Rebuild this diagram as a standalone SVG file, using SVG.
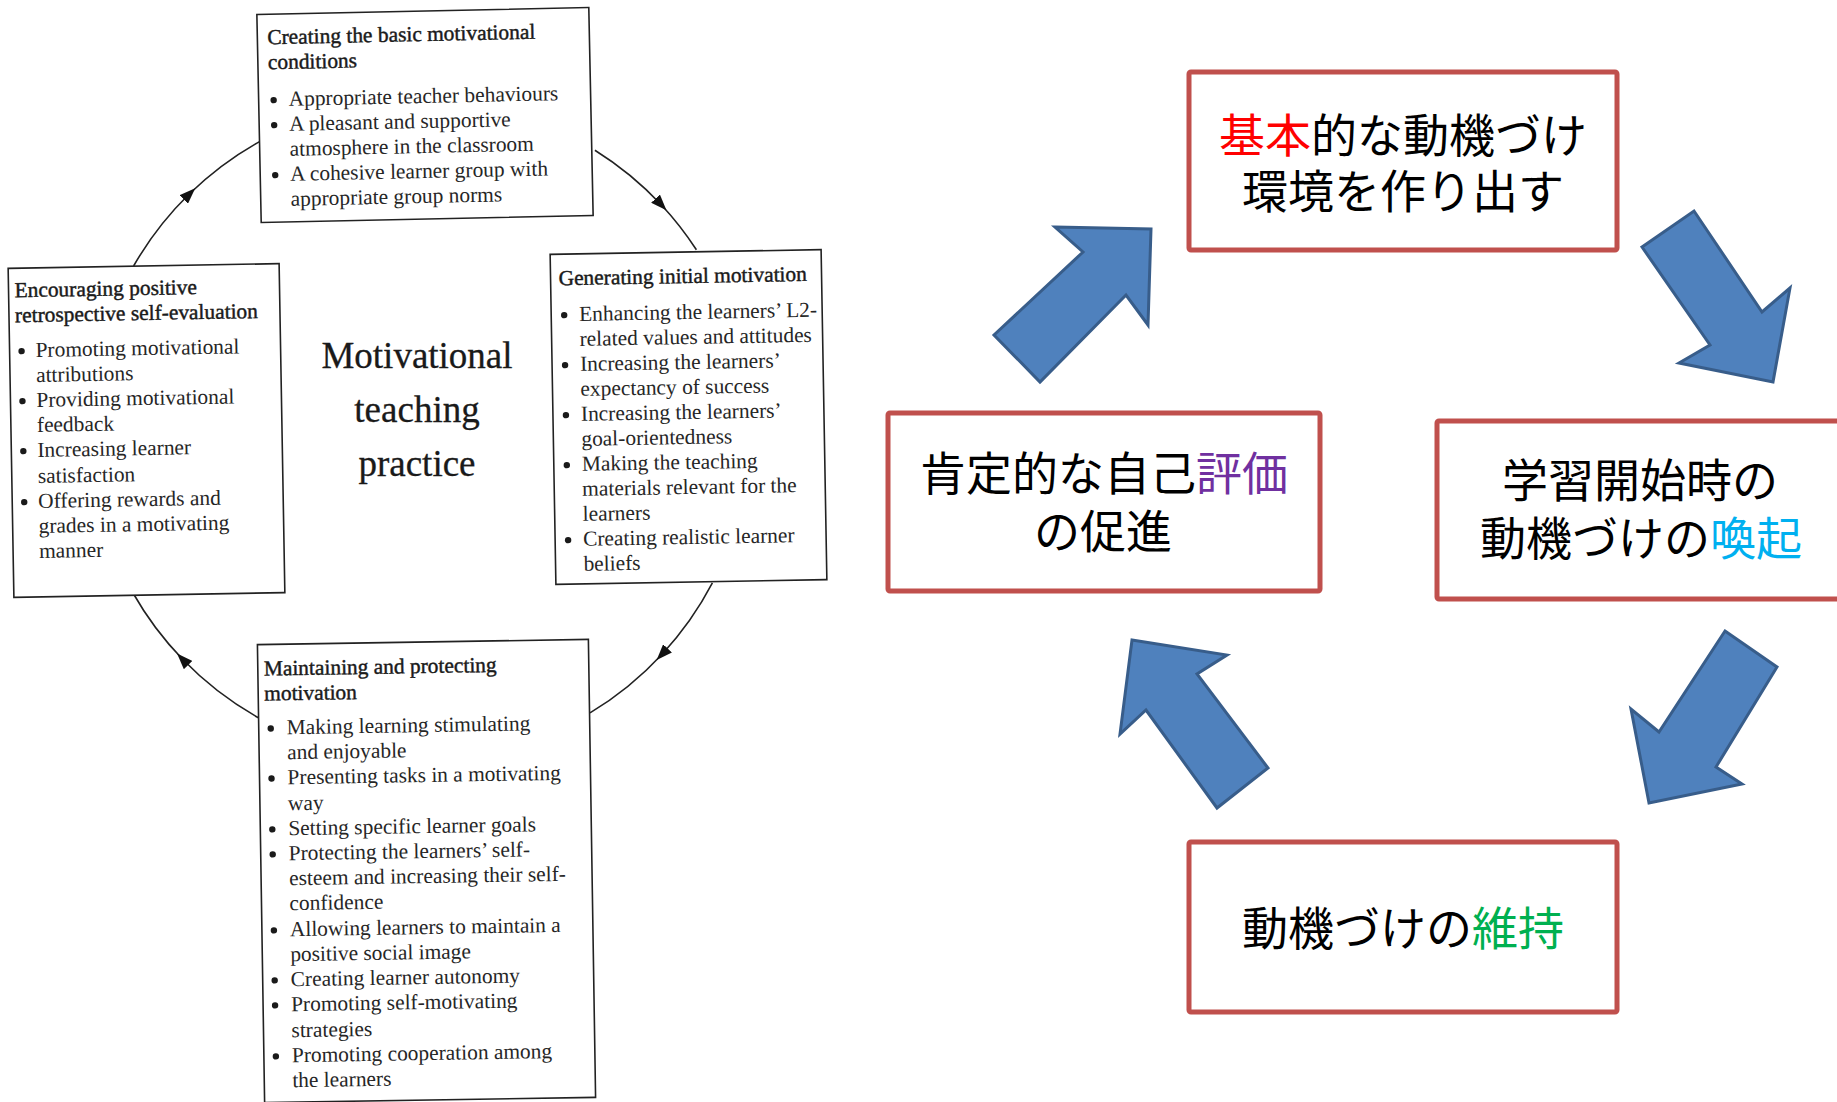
<svg xmlns="http://www.w3.org/2000/svg" width="1837" height="1102" viewBox="0 0 1837 1102">
<defs>
<style>
.sbox{fill:#fff;stroke:#222;stroke-width:1.6}
.t{font-family:"Liberation Serif","Times New Roman",serif;font-size:21.4px;fill:#262626}
.ti{font-family:"Liberation Serif","Times New Roman",serif;font-size:21.4px;fill:#1a1a1a;stroke:#1a1a1a;stroke-width:0.45}
.ct{font-family:"Liberation Serif","Times New Roman",serif;font-size:37px;fill:#1a1a1a;text-anchor:middle;stroke:#1a1a1a;stroke-width:0.3}
.dot{fill:#1a1a1a}
.arc{fill:none;stroke:#222;stroke-width:1.6;marker-mid:url(#ah)}
.jbox{fill:#fff;stroke:#C0504D;stroke-width:5}
.jt{font-family:"Noto Sans CJK JP","Noto Sans CJK SC",sans-serif;font-size:46px;fill:#000}
.red{fill:#FF0000}
.cyan{fill:#00B0F0}
.green{fill:#00B050}
.purple{fill:#7030A0}
.barrow{fill:#4F81BD;stroke:#385D8A;stroke-width:3;stroke-linejoin:miter}
</style>
<marker id="ah" viewBox="0 0 16 12" refX="8" refY="6" markerWidth="16" markerHeight="12" markerUnits="userSpaceOnUse" orient="auto">
<path d="M0,0 L16,6 L0,12 z" fill="#111"/>
</marker>
</defs>
<rect width="1837" height="1102" fill="#fff"/>

<!-- connectors (left cycle) -->
<g id="connectors">
<path class="arc" d="M133.6,266 A330,330 0 0 1 189.5,193.8 A330,330 0 0 1 259.5,141.6"/>
<path class="arc" d="M594.9,150.2 A330,330 0 0 1 661,204.5 A330,330 0 0 1 696.4,249.8"/>
<path class="arc" d="M712.4,582.9 A330,330 0 0 1 662.1,654.2 A330,330 0 0 1 590,712.9"/>
<path class="arc" d="M258.5,717.8 A330,330 0 0 1 182.6,659.3 A330,330 0 0 1 133,593"/>
</g>

<!-- left: top box -->
<g id="node-creating" transform="rotate(-1.2 425 115)">
<rect class="sbox" x="259" y="11" width="332" height="208"/>
<text class="ti" x="269" y="41">Creating the basic motivational</text>
<text class="ti" x="269" y="66">conditions</text>
<circle class="dot" cx="274" cy="97" r="3.2"/>
<text class="t" x="289" y="103">Appropriate teacher behaviours</text>
<circle class="dot" cx="274" cy="122" r="3.2"/>
<text class="t" x="289" y="128">A pleasant and supportive</text>
<text class="t" x="289" y="153">atmosphere in the classroom</text>
<circle class="dot" cx="274" cy="172" r="3.2"/>
<text class="t" x="289" y="178">A cohesive learner group with</text>
<text class="t" x="289" y="203">appropriate group norms</text>
</g>

<!-- left: encouraging box -->
<g id="node-encouraging" transform="rotate(-1 146.5 430.5)">
<rect class="sbox" x="11" y="266" width="271" height="329"/>
<text class="ti" x="17" y="295">Encouraging positive</text>
<text class="ti" x="17" y="320">retrospective self-evaluation</text>
<circle class="dot" cx="23" cy="349" r="3.2"/>
<text class="t" x="37" y="355">Promoting motivational</text>
<text class="t" x="37" y="380">attributions</text>
<circle class="dot" cx="23" cy="399" r="3.2"/>
<text class="t" x="37" y="405">Providing motivational</text>
<text class="t" x="37" y="430">feedback</text>
<circle class="dot" cx="23" cy="449" r="3.2"/>
<text class="t" x="37" y="455">Increasing learner</text>
<text class="t" x="37" y="481">satisfaction</text>
<circle class="dot" cx="23" cy="500" r="3.2"/>
<text class="t" x="37" y="506">Offering rewards and</text>
<text class="t" x="37" y="531">grades in a motivating</text>
<text class="t" x="37" y="556">manner</text>
</g>

<!-- left: generating box -->
<g id="node-generating" transform="rotate(-1 688 417)">
<rect class="sbox" x="553" y="252" width="271" height="330"/>
<text class="ti" x="561" y="283">Generating initial motivation</text>
<circle class="dot" cx="566" cy="313" r="3.2"/>
<text class="t" x="581" y="319">Enhancing the learners’ L2-</text>
<text class="t" x="581" y="344">related values and attitudes</text>
<circle class="dot" cx="566" cy="363" r="3.2"/>
<text class="t" x="581" y="369">Increasing the learners’</text>
<text class="t" x="581" y="394">expectancy of success</text>
<circle class="dot" cx="566" cy="413" r="3.2"/>
<text class="t" x="581" y="419">Increasing the learners’</text>
<text class="t" x="581" y="444">goal-orientedness</text>
<circle class="dot" cx="566" cy="463" r="3.2"/>
<text class="t" x="581" y="469">Making the teaching</text>
<text class="t" x="581" y="494">materials relevant for the</text>
<text class="t" x="581" y="519">learners</text>
<circle class="dot" cx="566" cy="538" r="3.2"/>
<text class="t" x="581" y="544">Creating realistic learner</text>
<text class="t" x="581" y="569">beliefs</text>
</g>

<!-- left: maintaining box -->
<g id="node-maintaining" transform="rotate(-0.9 427 871)">
<rect class="sbox" x="261" y="642" width="331" height="458"/>
<text class="ti" x="267" y="673">Maintaining and protecting</text>
<text class="ti" x="267" y="698">motivation</text>
<circle class="dot" cx="273" cy="726" r="3.2"/>
<text class="t" x="289" y="732">Making learning stimulating</text>
<text class="t" x="289" y="757">and enjoyable</text>
<circle class="dot" cx="273" cy="776" r="3.2"/>
<text class="t" x="289" y="782">Presenting tasks in a motivating</text>
<text class="t" x="289" y="808">way</text>
<circle class="dot" cx="273" cy="827" r="3.2"/>
<text class="t" x="289" y="833">Setting specific learner goals</text>
<circle class="dot" cx="273" cy="852" r="3.2"/>
<text class="t" x="289" y="858">Protecting the learners’ self-</text>
<text class="t" x="289" y="883">esteem and increasing their self-</text>
<text class="t" x="289" y="908">confidence</text>
<circle class="dot" cx="273" cy="928" r="3.2"/>
<text class="t" x="289" y="934">Allowing learners to maintain a</text>
<text class="t" x="289" y="959">positive social image</text>
<circle class="dot" cx="273" cy="978" r="3.2"/>
<text class="t" x="289" y="984">Creating learner autonomy</text>
<circle class="dot" cx="273" cy="1003" r="3.2"/>
<text class="t" x="289" y="1009">Promoting self-motivating</text>
<text class="t" x="289" y="1035">strategies</text>
<circle class="dot" cx="273" cy="1054" r="3.2"/>
<text class="t" x="289" y="1060">Promoting cooperation among</text>
<text class="t" x="289" y="1085">the learners</text>
</g>

<!-- centre label -->
<g id="node-center">
<text class="ct" x="417" y="368">Motivational</text>
<text class="ct" x="417" y="422">teaching</text>
<text class="ct" x="417" y="476">practice</text>
</g>

<!-- right: Japanese boxes -->
<g id="jp-node-top">
<rect class="jbox" x="1189" y="72" width="428" height="178" rx="2"/>
<text class="jt"><tspan class="red" x="1219" y="152">基本</tspan><tspan>的な動機づけ</tspan><tspan x="1242" y="208">環境を作り出す</tspan></text>
</g>
<g id="jp-node-right">
<rect class="jbox" x="1437" y="421" width="432" height="178" rx="2"/>
<text class="jt"><tspan x="1502" y="497">学習開始時の</tspan><tspan x="1480" y="555">動機づけの</tspan><tspan class="cyan">喚起</tspan></text>
</g>
<g id="jp-node-bottom">
<rect class="jbox" x="1189" y="842" width="428" height="170" rx="2"/>
<text class="jt" x="1242" y="945">動機づけの<tspan class="green">維持</tspan></text>
</g>
<g id="jp-node-left">
<rect class="jbox" x="888" y="413" width="432" height="178" rx="2"/>
<text class="jt"><tspan x="920" y="490">肯定的な自己</tspan><tspan class="purple">評価</tspan><tspan x="1034" y="548">の促進</tspan></text>
</g>

<!-- right: block arrows -->
<g id="jp-arrows">
<polygon class="barrow" points="1055,227 1151,229 1148,325 1126,295 1040,382 994,335 1083,252"/>
<polygon class="barrow" points="1642,247 1694,211 1762,312 1790,288 1773,382 1679,363 1710,345"/>
<polygon class="barrow" points="1725,631 1777,667 1716,767 1742,784 1649,803 1631,709 1659,732"/>
<polygon class="barrow" points="1132,640 1227,655 1197,674 1268,768 1217,808 1146,710 1120,734"/>
</g>
</svg>
